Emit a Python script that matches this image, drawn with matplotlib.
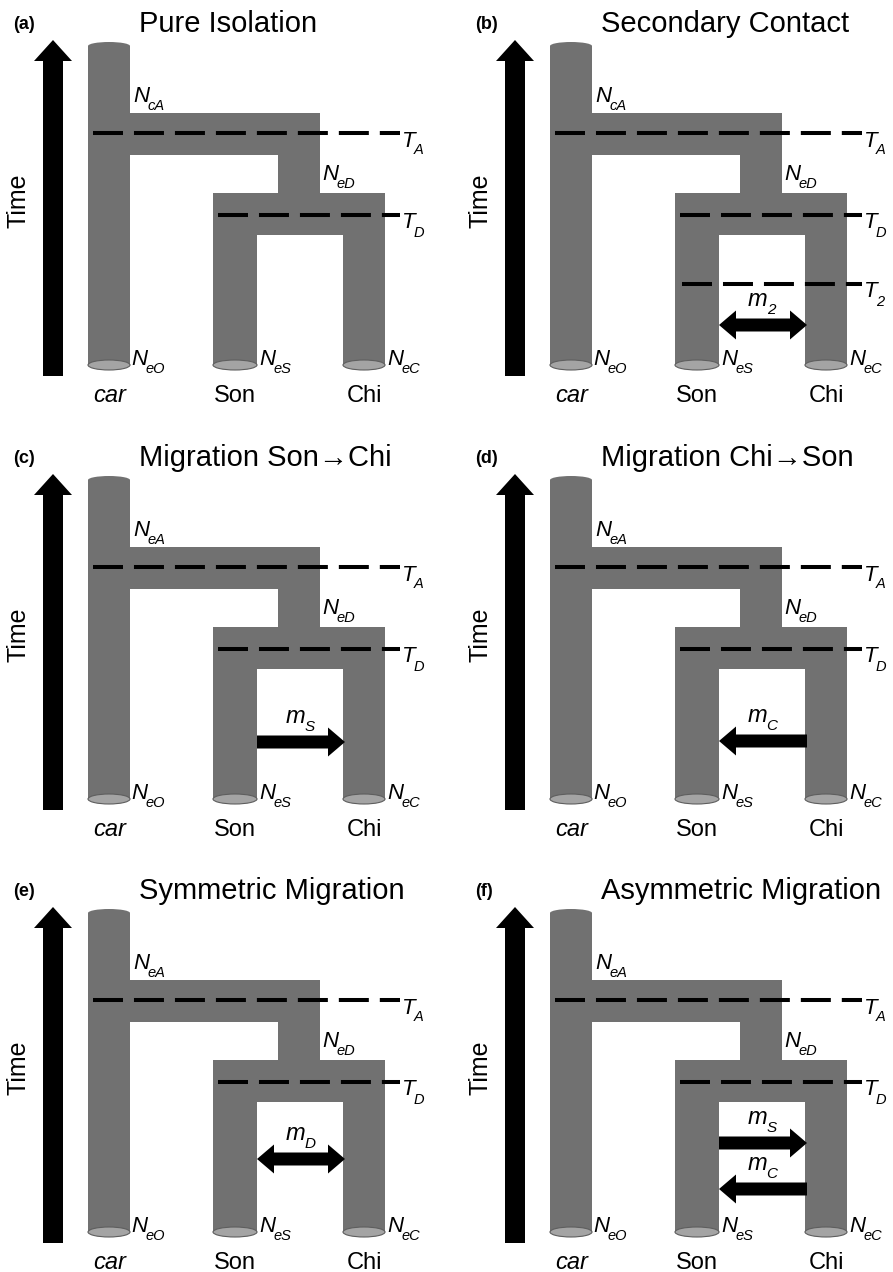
import matplotlib
matplotlib.use('Agg')
import matplotlib.pyplot as plt
from matplotlib.patches import Rectangle, Ellipse, FancyArrow

plt.rcParams['font.family'] = ['Liberation Sans', 'DejaVu Sans']
plt.rcParams['lines.scale_dashes'] = False

W, H = 893, 1272

# panel content
panel_letters = ['(a)', '(b)', '(c)', '(d)', '(e)', '(f)']
panel_titles = ['Pure Isolation', 'Secondary Contact',
                'Migration Son\u2192Chi', 'Migration Chi\u2192Son',
                'Symmetric Migration', 'Asymmetric Migration']
ancestral_subs = ['cA', 'cA', 'eA', 'eA', 'eA', 'eA']
pop_names = ['car', 'Son', 'Chi']
pop_italic = [True, False, False]
pop_subs = ['eO', 'eS', 'eC']
split_labels = ['A', 'D']
# migration arrows: (direction, subscript of m)
migrations = [
    [],
    [('both', '2')],
    [('right', 'S')],
    [('left', 'C')],
    [('both', 'D')],
    [('right', 'S'), ('left', 'C')],
]
secondary_contact = [False, True, False, False, False, False]

# layout (pixels, panel relative)
col_x0 = [0, 462]
row_y0 = [0, 434, 867]
mig_y = [[], [325], [308], [307], [292], [276, 322]]
grey = '#717171'

fig = plt.figure(figsize=(W / 100, H / 100), dpi=100)
ax = fig.add_axes([0, 0, 1, 1])
ax.set_xlim(0, W)
ax.set_ylim(H, 0)
ax.axis('off')
renderer = fig.canvas.get_renderer()


def sub_text(x, y, main, sub, size, subsize, drop, gap=-2):
    t = ax.text(x, y, main, fontsize=size, style='italic', ha='left', va='baseline')
    bb = t.get_window_extent(renderer)
    x1 = ax.transData.inverted().transform((bb.x1, bb.y0))[0]
    ax.text(x1 + gap, y + drop, sub, fontsize=subsize, style='italic',
            ha='left', va='baseline')


def dashed(x0, x1, y):
    ax.plot([x0, x1], [y, y], color='black', lw=2.9, dashes=(21.6, 7.9),
            solid_capstyle='butt', dash_capstyle='butt', zorder=3)


def draw_panel(i):
    r, c = divmod(i, 2)
    ox, oy = col_x0[c], row_y0[r]

    # time arrow
    ax.add_patch(FancyArrow(ox + 53, oy + 376, 0, -336, width=20, head_width=38,
                            head_length=21, length_includes_head=True,
                            color='black', lw=0))
    ax.text(ox + 19, oy + 201, 'Time', fontsize=18, rotation=90,
            ha='center', va='center')

    # tree body
    rects = [(88, 46, 42, 319),     # car
             (88, 113, 232, 42),    # ancestral bar
             (278, 155, 42, 38),    # connector
             (213, 193, 172, 42),   # Son/Chi ancestor
             (213, 235, 44, 130),   # Son
             (343, 235, 42, 130)]   # Chi
    for x, y, w, h in rects:
        ax.add_patch(Rectangle((ox + x, oy + y), w, h, color=grey, lw=0))
    ax.add_patch(Ellipse((ox + 109, oy + 46), 42, 8, color=grey, lw=0))
    for cx, w in [(109, 42), (235, 44), (364, 42)]:
        ax.add_patch(Ellipse((ox + cx, oy + 365), w, 10, fc='#a4a4a4',
                             ec='#5e5e5e', lw=0.8))

    # time lines
    dashed(ox + 93, ox + 400, oy + 133)
    dashed(ox + 218, ox + 400, oy + 215)
    sub_text(ox + 402, oy + 147, 'T', split_labels[0], 16, 10.5, 7)
    sub_text(ox + 402, oy + 228, 'T', split_labels[1], 16, 10.5, 9)
    if secondary_contact[i]:
        dashed(ox + 220, ox + 400, oy + 284)
        sub_text(ox + 402, oy + 297, 'T', '2', 16, 10.5, 9)

    # population sizes
    sub_text(ox + 133, oy + 102, 'N', ancestral_subs[i], 16, 10.5, 8)
    sub_text(ox + 322, oy + 180, 'N', 'eD', 16, 10.5, 8)
    for nx, s in zip([131, 259, 387], pop_subs):
        sub_text(ox + nx, oy + 365, 'N', s, 16, 10.5, 8)

    for px, name, it in zip([110, 235, 364], pop_names, pop_italic):
        ax.text(ox + px, oy + 402, name, fontsize=17, ha='center', va='baseline',
                style='italic' if it else 'normal')

    # migration arrows
    for (kind, lab), my in zip(migrations[i], mig_y[i]):
        y = oy + my
        left, right = ox + 257, ox + 345
        kw = dict(width=13, head_width=29, head_length=17,
                  length_includes_head=True, color='black', lw=0)
        if kind == 'right':
            ax.add_patch(FancyArrow(left, y, right - left, 0, **kw))
        elif kind == 'left':
            ax.add_patch(FancyArrow(right, y, left - right, 0, **kw))
        else:
            mid = (left + right) / 2
            ax.add_patch(FancyArrow(mid, y, right - mid, 0, **kw))
            ax.add_patch(FancyArrow(mid, y, left - mid, 0, **kw))
        sub_text(ox + 286, y - 19, 'm', lab, 17, 11, 8, gap=-1)

    # panel letter and title
    ax.text(ox + 13, oy + 29, panel_letters[i], fontsize=13, fontweight='bold',
            ha='left', va='baseline')
    ax.text(ox + 139, oy + 32, panel_titles[i], fontsize=21,
            ha='left', va='baseline')


for i in range(6):
    draw_panel(i)

fig.savefig('out.png', dpi=100)
